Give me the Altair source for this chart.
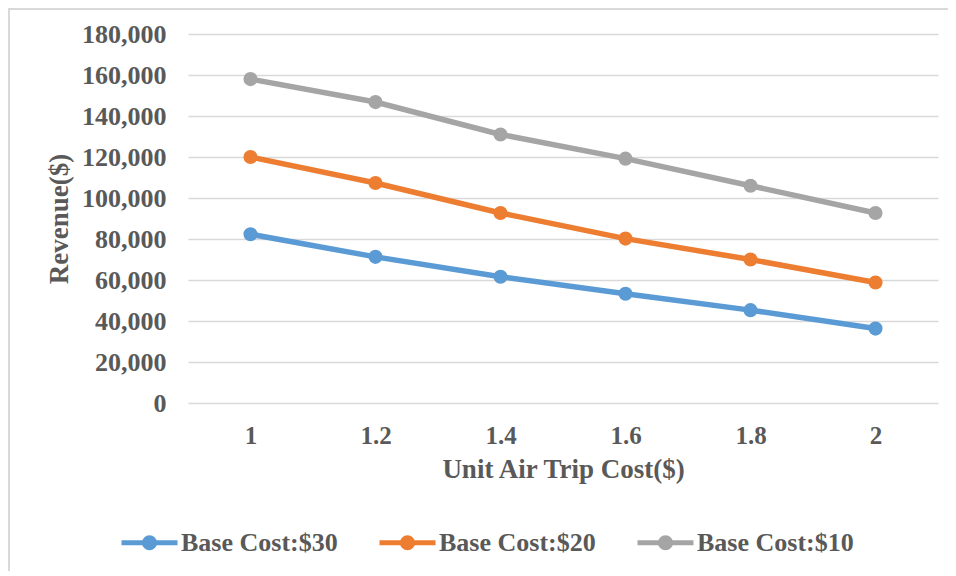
import altair as alt
import pandas as pd

# Data
unit_cost = ["1", "1.2", "1.4", "1.6", "1.8", "2"]
series_names = ["Base Cost:$30", "Base Cost:$20", "Base Cost:$10"]
base30 = [82300, 71300, 61600, 53300, 45300, 36300]
base20 = [120000, 107300, 92700, 80200, 70000, 58800]
base10 = [158000, 146800, 131000, 119200, 106000, 92700]
colors = ["#5B9BD5", "#ED7D31", "#A5A5A5"]
y_ticks = list(range(0, 180001, 20000))

rows = []
for name, vals in zip(series_names, [base30, base20, base10]):
    for xv, yv in zip(unit_cost, vals):
        rows.append({"cost": xv, "revenue": yv, "series": name})
df = pd.DataFrame(rows)

FONT = "Liberation Serif"
TXT = "#595959"
GRID = "#D9D9D9"

x_enc = alt.X(
    "cost:O",
    sort=unit_cost,
    scale=alt.Scale(type="point", padding=0.5),
    axis=alt.Axis(
        title="Unit Air Trip Cost($)",
        labelAngle=0,
        domain=False,
        ticks=False,
        grid=False,
        labelPadding=20,
        titlePadding=8,
        labelFont=FONT, labelFontSize=25, labelFontWeight="bold", labelColor=TXT,
        titleFont=FONT, titleFontSize=27, titleFontWeight="bold", titleColor=TXT,
    ),
)
y_enc = alt.Y(
    "revenue:Q",
    scale=alt.Scale(domain=[0, 180000], nice=False),
    axis=alt.Axis(
        title="Revenue($)",
        values=y_ticks,
        format=",.0f",
        domain=False,
        ticks=False,
        grid=True,
        gridColor=GRID,
        gridWidth=1.5,
        labelPadding=22,
        titlePadding=8,
        labelFont=FONT, labelFontSize=26, labelFontWeight="bold", labelColor=TXT,
        titleFont=FONT, titleFontSize=27, titleFontWeight="bold", titleColor=TXT,
    ),
)
color_enc = alt.Color(
    "series:N",
    scale=alt.Scale(domain=series_names, range=colors),
    legend=alt.Legend(title=None),
)

base = alt.Chart(df).encode(x=x_enc, y=y_enc, color=color_enc)
lines = base.mark_line(strokeWidth=5.5)
points = base.mark_point(filled=True, size=200, opacity=1)

frame_left = alt.Chart(df).mark_rule(color=GRID, strokeWidth=2).encode(
    x=alt.value(-179), y=alt.value(-26), y2=alt.value(560)
)
frame_top = alt.Chart(df).mark_rule(color=GRID, strokeWidth=2).encode(
    x=alt.value(-179), x2=alt.value(770), y=alt.value(-25)
)

chart = (
    alt.layer(frame_left, frame_top, lines, points)
    .properties(
        width=750,
        height=369,
        autosize=alt.AutoSizeParams(type="none"),
        padding={"left": 180, "top": 26, "right": 10, "bottom": 168},
        background="white",
    )
    .configure_view(stroke=None)
    .configure_legend(
        orient="none",
        legendX=-69,
        legendY=478,
        direction="horizontal",
        symbolType="M-1,0H1M-0.18,0A0.18,0.18,0,1,0,0.18,0A0.18,0.18,0,1,0,-0.18,0Z",
        symbolSize=3136,
        symbolStrokeWidth=5,
        labelOffset=1,
        columnPadding=31,
        labelFont=FONT,
        labelFontSize=26,
        labelFontWeight="bold",
        labelColor=TXT,
    )
)

chart.save("out.html", embed_options={"renderer": "svg", "actions": False})
